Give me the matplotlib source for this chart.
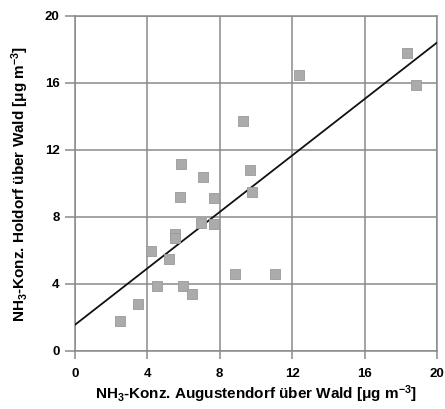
import matplotlib
matplotlib.use("Agg")
import matplotlib.pyplot as plt
import numpy as np

plt.rcParams['font.family'] = ['Liberation Sans', 'DejaVu Sans']
plt.rcParams['font.weight'] = 'bold'
plt.rcParams['mathtext.fontset'] = 'custom'
plt.rcParams['mathtext.rm'] = 'Liberation Sans:bold'
plt.rcParams['mathtext.it'] = 'Liberation Sans:bold'
plt.rcParams['mathtext.bf'] = 'Liberation Sans:bold'
plt.rcParams['mathtext.default'] = 'rm'

# NH3 concentrations above forest (µg m-3)
augustendorf = [9.29, 5.89, 7.08, 9.66, 5.80, 7.67, 9.80, 12.37, 18.36, 18.84,
                6.99, 7.67, 5.51, 5.51, 4.20, 5.18, 8.87, 4.52, 5.98, 6.50,
                3.49, 2.50, 11.07]
holdorf = [13.75, 11.18, 10.41, 10.81, 9.18, 9.12, 9.51, 16.48, 17.77, 15.86,
           7.66, 7.56, 7.00, 6.75, 5.99, 5.47, 4.60, 3.90, 3.90, 3.38,
           2.81, 1.79, 4.58]

# regression line
fit_intercept = 1.55
fit_slope = 0.843

ticks = [0, 4, 8, 12, 16, 20]

fig = plt.figure(figsize=(4.45, 4.09), dpi=100)
ax = fig.add_axes([0.168, 0.142, 0.814, 0.819])

ax.set_xlim(0, 20)
ax.set_ylim(0, 20)
ax.set_xticks(ticks)
ax.set_yticks(ticks)
ax.grid(True, color='#8a8a8a', linewidth=1.1)
ax.set_axisbelow(True)
for s in ax.spines.values():
    s.set_color('#8a8a8a')
    s.set_linewidth(1.1)
ax.tick_params(axis='y', length=7, width=1.1, color='#8a8a8a', labelsize=9.5, pad=4)
ax.tick_params(axis='x', length=6, width=1.1, color='#8a8a8a', labelsize=9.5, pad=6)

xs = np.array([0, 20])
ax.plot(xs, fit_intercept + fit_slope * xs, color='#111111', linewidth=1.3, zorder=3)

ax.scatter(augustendorf, holdorf, marker='s', s=46, color='#ababab',
           edgecolors='#9a9a9a', linewidths=0.6, zorder=4)

ax.set_xlabel(r'NH$_3$-Konz. Augustendorf über Wald [$\mu$g m$^{-3}$]',
              fontsize=11, fontweight='bold', labelpad=3)
ax.set_ylabel(r'NH$_3$-Konz. Holdorf über Wald [$\mu$g m$^{-3}$]',
              fontsize=11, fontweight='bold', labelpad=10)

fig.savefig('out.png', dpi=100)
